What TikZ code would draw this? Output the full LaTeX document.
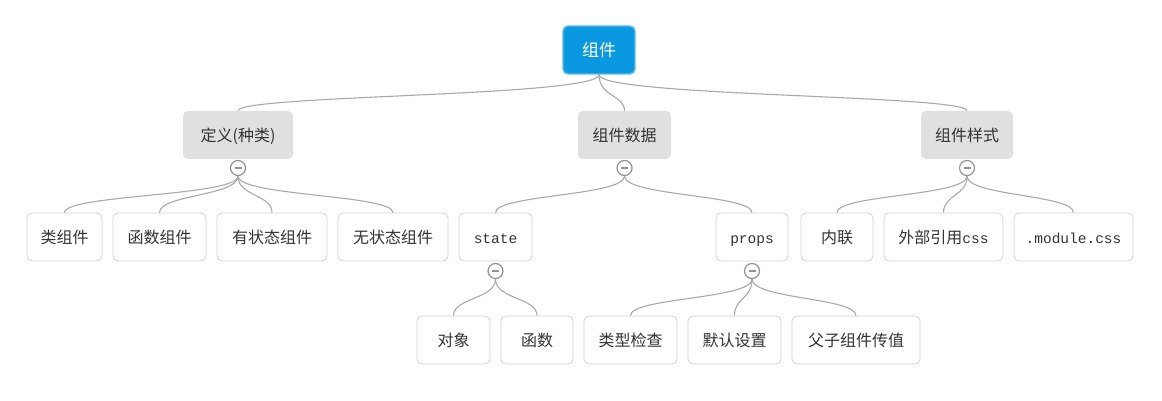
\documentclass[tikz,border=0pt]{standalone}
\usepackage{fontspec}
\setmainfont{Noto Sans CJK SC}
\newfontfamily\monof{Liberation Mono}
\definecolor{rootfill}{HTML}{0A98E0}
\definecolor{rootdraw}{HTML}{5BBCEE}
\definecolor{lonefill}{HTML}{E0E0E0}
\definecolor{leafdraw}{HTML}{D2D2D2}
\definecolor{conncol}{HTML}{A9A9A9}
\definecolor{togcol}{HTML}{9090A0}
\definecolor{txtcol}{HTML}{333333}
\tikzset{
  base/.style={rectangle, rounded corners=5pt, minimum height=48pt, inner sep=0pt, text height=15pt, text depth=2pt, font=\fontsize{16}{18}\selectfont, text=txtcol},
  rootbox/.style={base, fill=rootfill, draw=rootdraw, line width=1.4pt, text=white, font=\fontsize{17}{19}\selectfont},
  lonebox/.style={base, fill=lonefill},
  leafbox/.style={base, fill=white, draw=leafdraw, line width=0.8pt},
  tog/.style={circle, draw=togcol, fill=white, line width=1.2pt, minimum size=15pt, inner sep=0pt,
    path picture={\draw[togcol, line width=1.3pt] ([xshift=-3.5pt]path picture bounding box.center) -- ([xshift=3.5pt]path picture bounding box.center);}},
  conn/.style={draw=conncol, line width=1.1pt}
}
\newcommand{\mm}[1]{{\monof\fontsize{14.5}{16}\selectfont #1}}
\begin{document}
\begin{tikzpicture}[x=1pt,y=-1pt]
\useasboundingbox (0,0) rectangle (1162,401);
% root
\node[rootbox, minimum width=72pt] (r) at (599,50) {组件};
% level 1
\node[lonebox, minimum width=110pt] (a) at (238,135) {定义(种类)};
\node[lonebox, minimum width=93pt] (b) at (624.5,135) {组件数据};
\node[lonebox, minimum width=92pt] (c) at (967,135) {组件样式};
% level 2
\node[leafbox, minimum width=75pt] (a1) at (64.5,237) {类组件};
\node[leafbox, minimum width=93pt] (a2) at (159.5,237) {函数组件};
\node[leafbox, minimum width=110pt] (a3) at (272,237) {有状态组件};
\node[leafbox, minimum width=110pt] (a4) at (393,237) {无状态组件};
\node[leafbox, minimum width=73pt] (b1) at (495.5,237) {\mm{state}};
\node[leafbox, minimum width=72pt] (b2) at (752,237) {\mm{props}};
\node[leafbox, minimum width=72pt] (c1) at (837,237) {内联};
\node[leafbox, minimum width=119pt] (c2) at (943.5,237) {外部引用\mm{css}};
\node[leafbox, minimum width=119pt] (c3) at (1073.5,237) {\mm{.module.css}};
% level 3
\node[leafbox, minimum width=73pt] (d1) at (453.5,340) {对象};
\node[leafbox, minimum width=72pt] (d2) at (537,340) {函数};
\node[leafbox, minimum width=93pt] (e1) at (630.5,340) {类型检查};
\node[leafbox, minimum width=93pt] (e2) at (734.5,340) {默认设置};
\node[leafbox, minimum width=128pt] (e3) at (856,340) {父子组件传值};
% toggles
\node[tog] (ta) at (238,168) {};
\node[tog] (tb) at (624.5,168) {};
\node[tog] (tc) at (967,168) {};
\node[tog] (tb1) at (495.5,271) {};
\node[tog] (tb2) at (752,271) {};
% connectors
\foreach \s/\t in {r/a, r/b, r/c}{
  \path[conn] (\s.south) .. controls +(0,22) and +(0,-16) .. (\t.north);
}
\foreach \s/\t in {ta/a1, ta/a2, ta/a3, ta/a4, tb/b1, tb/b2, tc/c1, tc/c2, tc/c3, tb1/d1, tb1/d2, tb2/e1, tb2/e2, tb2/e3}{
  \path[conn] (\s.south) .. controls +(0,20) and +(0,-18) .. (\t.north);
}
\end{tikzpicture}
\end{document}
